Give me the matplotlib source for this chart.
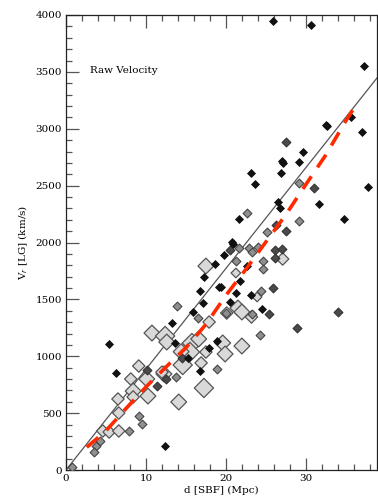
import matplotlib
matplotlib.use("Agg")
import matplotlib.pyplot as plt
import numpy as np

# ---------------- data ----------------
black_d = [25.9, 30.6, 37.25, 32.5, 32.6, 35.6, 37.0, 29.6, 27.0, 27.1, 29.1, 23.1, 26.9, 23.6,
           37.75, 26.5, 26.75, 31.6, 21.6, 34.75, 20.75, 20.9, 19.75, 22.6, 19.4, 21.75, 21.25,
           23.1, 20.5, 24.5, 18.6, 17.25, 16.75, 17.1, 15.9, 19.1, 13.25, 18.9, 5.4, 13.6, 17.9,
           16.75, 6.25, 12.4, 15.25]
black_v = [3947, 3912, 3551, 3033, 3020, 3103, 2971, 2796, 2716, 2699, 2708, 2611, 2611, 2514,
           2488, 2356, 2303, 2338, 2207, 2207, 2004, 1987, 1890, 1793, 1609, 1661, 1556,
           1538, 1477, 1415, 1811, 1697, 1573, 1468, 1389, 1609, 1292, 1134, 1108, 1116, 1072,
           870, 853, 211, 985]

dark_d = [27.5, 31.0, 26.25, 27.5, 20.5, 26.1, 27.0, 26.1, 25.9, 25.4, 34.0, 28.9, 14.5,
          10.1, 11.4, 12.5]
dark_v = [2884, 2479, 2154, 2101, 1934, 1934, 1943, 1864, 1600, 1371, 1389, 1248, 985,
          879, 738, 800]

gray_d = [29.1, 22.6, 29.1, 25.1, 21.6, 22.9, 23.25, 24.0, 21.25, 24.6, 24.6, 24.4, 23.25,
          20.0, 24.25, 13.9, 18.9, 13.75, 9.1, 9.5, 7.9, 4.25, 3.75, 3.5, 0.75, 16.5]
gray_v = [2523, 2259, 2189, 2092, 1952, 1952, 1916, 1960, 1837, 1837, 1767, 1573, 1371,
          1380, 1187, 1442, 888, 818, 475, 404, 343, 255, 211, 158, 26, 1336]

light_d = [27.1, 21.25, 23.9, 21.5, 22.0, 20.1, 23.2, 19.6, 22.0, 19.9, 17.5, 17.9, 10.75,
           12.4, 12.6, 15.75, 16.6, 15.5, 17.5, 14.6, 16.9, 9.1, 12.25, 8.1, 10.1, 8.4,
           17.25, 8.4, 10.25, 6.5, 14.1, 6.6, 4.6, 5.4, 6.6, 14.4, 12.0]
light_v = [1855, 1732, 1521, 1424, 1389, 1380, 1345, 1117, 1090, 1020, 1793, 1301, 1204,
           1178, 1125, 1116, 1152, 1037, 1037, 923, 941, 914, 844, 800, 800, 694,
           721, 642, 650, 624, 598, 501, 343, 334, 343, 1040, 860]
light_size = [2, 1, 1, 3, 3, 2, 2, 3, 3, 3, 3, 2, 3,
              4, 3, 4, 3, 4, 2, 4, 2, 2, 3, 2, 3, 3,
              4, 2, 3, 2, 3, 2, 2, 2, 2, 3, 2]

fit_slope = 88.6
fit_d = [0, 38.9]

red_d = [2.6, 5.0, 7.5, 10.0, 12.5, 15.0, 17.5, 20.0, 22.5, 25.0, 27.5, 30.0, 32.5, 35.0, 36.5]
red_v = [200, 345, 540, 730, 905, 1075, 1280, 1535, 1765, 2005, 2245, 2510, 2770, 3070, 3234]

x_ticks = [0, 10, 20, 30]
y_ticks = [0, 500, 1000, 1500, 2000, 2500, 3000, 3500, 4000]

# ---------------- figure ----------------
plt.rcParams['font.family'] = ['DejaVu Serif']
fig = plt.figure(figsize=(3.78, 5.04), dpi=100)
ax = fig.add_axes([66/378, 34/504, 311/378, 455/504])

ax.set_xlim(0, 38.9)
ax.set_ylim(0, 4000)

# fit line
ax.plot(fit_d, [fit_slope*d for d in fit_d], color='#555555', lw=0.9, zorder=2)

# points
size_map = {1: 7, 2: 9, 3: 11.5, 4: 14}
ls = np.array([size_map[s] for s in light_size])
ax.scatter(light_d, light_v, marker='D', s=(ls*0.7)**2, facecolor='#d9d9d9',
           edgecolor='#555555', linewidths=0.9, zorder=3)
ax.scatter(gray_d, gray_v, marker='D', s=20, facecolor='#8f8f8f',
           edgecolor='#444444', linewidths=0.8, zorder=4)
ax.scatter(dark_d, dark_v, marker='D', s=20, facecolor='#4a4a4a',
           edgecolor='#333333', linewidths=0.8, zorder=4)
ax.scatter(black_d, black_v, marker='D', s=16, facecolor='#111111',
           edgecolor='#111111', linewidths=0.6, zorder=5)

# red dashed curve
ax.plot(red_d, red_v, color='#ff2a00', lw=2.6, dashes=(4.2, 3.0), zorder=6)

# ticks
ax.set_xticks(x_ticks)
ax.set_yticks(y_ticks)
ax.set_xticks(np.arange(0, 39, 2), minor=True)
ax.set_yticks(np.arange(0, 4001, 100), minor=True)
ax.tick_params(which='both', direction='in', top=True, right=False, color='#555555',
               labelsize=7.5, width=0.9)
ax.tick_params(which='major', length=9)
ax.tick_params(which='minor', length=4.5)
ax.tick_params(axis='x', pad=3)
ax.tick_params(axis='y', pad=3)
ax.text(40, -95, '40', ha='center', va='top', fontsize=7.5, clip_on=False)

for s in ax.spines.values():
    s.set_color('#222222')
    s.set_linewidth(0.9)

ax.text(3.0, 3510, 'Raw Velocity', fontsize=7.5, ha='left', va='center')
ax.set_xlabel('d [SBF] (Mpc)', fontsize=7.5, labelpad=2)
ax.set_ylabel(r'V$_r$ [LG] (km/s)', fontsize=7.5, labelpad=4)

fig.savefig('out.png', dpi=100)
